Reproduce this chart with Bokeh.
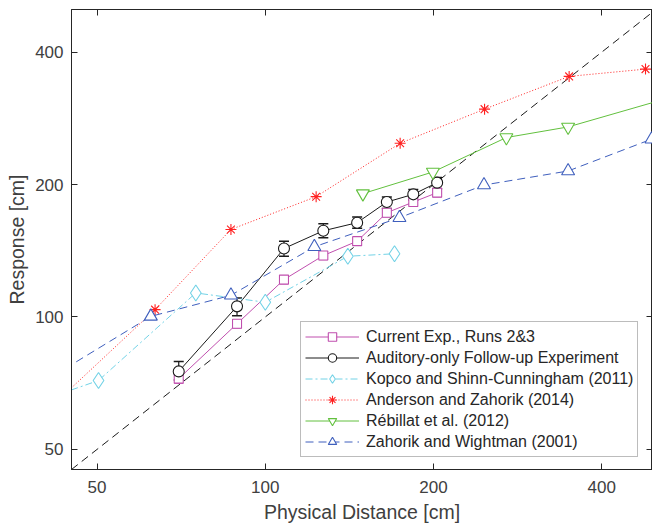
from bokeh.plotting import figure
from bokeh.models import (Range1d, FixedTicker, PrintfTickFormatter, LogAxis, Legend,
                          LegendItem, Whisker, ColumnDataSource, TeeHead, CustomJSTickFormatter)
from bokeh.embed import file_html
from bokeh.resources import INLINE

# ---------------- data ----------------
ticks = [50, 100, 200, 400]

diag = [45, 500]

cur_x = [70, 89, 108, 127, 146, 165, 184, 203]
cur_y = [72.4, 96.5, 121.6, 137.9, 148.7, 172.6, 182.5, 191.7]
cur_lo = [70.7, 94.4, 119.1, 135.1, 145.6, 169.0, 178.7, 187.7]
cur_hi = [73.9, 98.2, 123.7, 140.6, 151.4, 175.6, 185.7, 195.0]

fol_x = [70, 89, 108, 127, 146, 165, 184, 203]
fol_y = [75.2, 105.7, 143.1, 157.0, 163.8, 182.5, 190.0, 202.0]
fol_lo = [71.9, 100.7, 137.4, 151.4, 159.0, 176.5, 184.4, 195.7]
fol_hi = [79.2, 110.5, 148.7, 162.9, 168.7, 187.3, 195.0, 207.4]

kop_x = [40, 50.3, 75.1, 100, 140.5, 170.3]
kop_y = [64.8, 71.7, 113.4, 108.0, 137.4, 139.2]

and_x = [40, 63.5, 86.8, 123.3, 174.3, 246.8, 349.7, 479]
and_y = [60.0, 103.9, 158.1, 187.7, 248.3, 296.8, 352.3, 366.0]

reb_x = [149.5, 199.5, 270, 348.2, 600]
reb_y = [190.7, 213.6, 255.8, 270.4, 330.0]

zah_x = [40, 62.4, 86.8, 122.4, 173.8, 246.2, 348.2, 491]
zah_y = [71.1, 100.3, 112.0, 144.4, 168.1, 199.5, 214.7, 253.6]

labels = ["Current Exp., Runs 2&3",
          "Auditory-only Follow-up Experiment",
          "Kopco and Shinn-Cunningham (2011)",
          "Anderson and Zahorik (2014)",
          "Rébillat et al. (2012)",
          "Zahorik and Wightman (2001)"]

# ---------------- styling ----------------
FONT = "Liberation Sans"
AX = "#262626"
TXT = "#404040"
C_MAG = "#c04fae"
C_BLK = "#1a1a1a"
C_CYA = "#72d2e6"
C_RED = "#ff2020"
C_GRN = "#62c03e"
C_BLU = "#3f5fbd"

p = figure(width=652, height=528, x_axis_type="log", y_axis_type="log",
           x_range=Range1d(45, 493), y_range=Range1d(45, 500),
           output_backend="svg", toolbar_location=None,
           min_border_left=71, min_border_right=0, min_border_top=9, min_border_bottom=59)
p.xgrid.visible = False
p.ygrid.visible = False
p.outline_line_color = AX
p.background_fill_color = "white"

def style_axis(ax, show_labels=True):
    ax.ticker = FixedTicker(ticks=ticks, minor_ticks=[])
    ax.major_tick_in = 6
    ax.major_tick_out = 0
    ax.minor_tick_line_color = None
    ax.major_tick_line_color = AX
    ax.axis_line_color = AX
    ax.major_label_text_font = FONT
    ax.major_label_text_color = TXT
    if show_labels:
        ax.formatter = PrintfTickFormatter(format="%d")
        ax.major_label_text_font_size = "17px"
        ax.major_label_standoff = 8
    else:
        ax.formatter = CustomJSTickFormatter(code="return ''")
        ax.major_label_text_font_size = "1px"
        ax.major_label_standoff = 0
    ax.axis_label_text_font = FONT
    ax.axis_label_text_font_style = "normal"
    ax.axis_label_text_color = TXT
    ax.axis_label_text_font_size = "19.5px"

style_axis(p.xaxis[0])
style_axis(p.yaxis[0])
p.xaxis[0].axis_label = "Physical Distance [cm]"
p.yaxis[0].axis_label = "Response [cm]"
p.xaxis[0].major_label_standoff = 11
p.xaxis[0].axis_label_standoff = 5
p.yaxis[0].axis_label_standoff = 4

top = LogAxis()
style_axis(top, show_labels=False)
p.add_layout(top, "above")
right = LogAxis()
style_axis(right, show_labels=False)
p.add_layout(right, "right")

# diagonal
p.line(diag, diag, line_color=C_BLK, line_width=1, line_dash="8 5")

# error bars
src_cur = ColumnDataSource(dict(x=cur_x, lo=cur_lo, hi=cur_hi))
src_fol = ColumnDataSource(dict(x=fol_x, lo=fol_lo, hi=fol_hi))
for src, col, w in [(src_cur, C_MAG, 9), (src_fol, C_BLK, 10)]:
    p.add_layout(Whisker(source=src, base="x", lower="lo", upper="hi",
                         line_color=col, line_width=1.2,
                         upper_head=TeeHead(size=w, line_color=col, line_width=1.5),
                         lower_head=TeeHead(size=w, line_color=col, line_width=1.5)))

items = []

def series(xs, ys, col, dash, marker, size, label, lw=1):
    l = p.line(xs, ys, line_color=col, line_width=lw, line_dash=dash)
    s = p.scatter(xs, ys, marker=marker, size=size, line_color=col,
                  fill_color="white", line_width=1.1)
    items.append(LegendItem(label=label, renderers=[l, s]))

series(cur_x, cur_y, C_MAG, "solid", "square", 9, labels[0])
series(fol_x, fol_y, C_BLK, "solid", "circle", 11, labels[1])
series(kop_x, kop_y, C_CYA, "7 3 2 3", "diamond", 16, labels[2])
series(and_x, and_y, C_RED, "1 2", "asterisk", 11, labels[3])
series(reb_x, reb_y, C_GRN, "solid", "inverted_triangle", 13, labels[4])
series(zah_x, zah_y, C_BLU, "8 5", "triangle", 13, labels[5])

legend = Legend(items=items, location=(229, 12),
                label_text_font=FONT, label_text_font_size="16px",
                label_text_color=AX, glyph_width=54, glyph_height=21,
                label_height=21, label_standoff=7, spacing=0, padding=4,
                margin=0, border_line_color="#7a7a7a", border_line_width=1,
                background_fill_color="white", background_fill_alpha=1.0)
p.add_layout(legend)

open("out.html", "w").write(file_html(p, INLINE))
